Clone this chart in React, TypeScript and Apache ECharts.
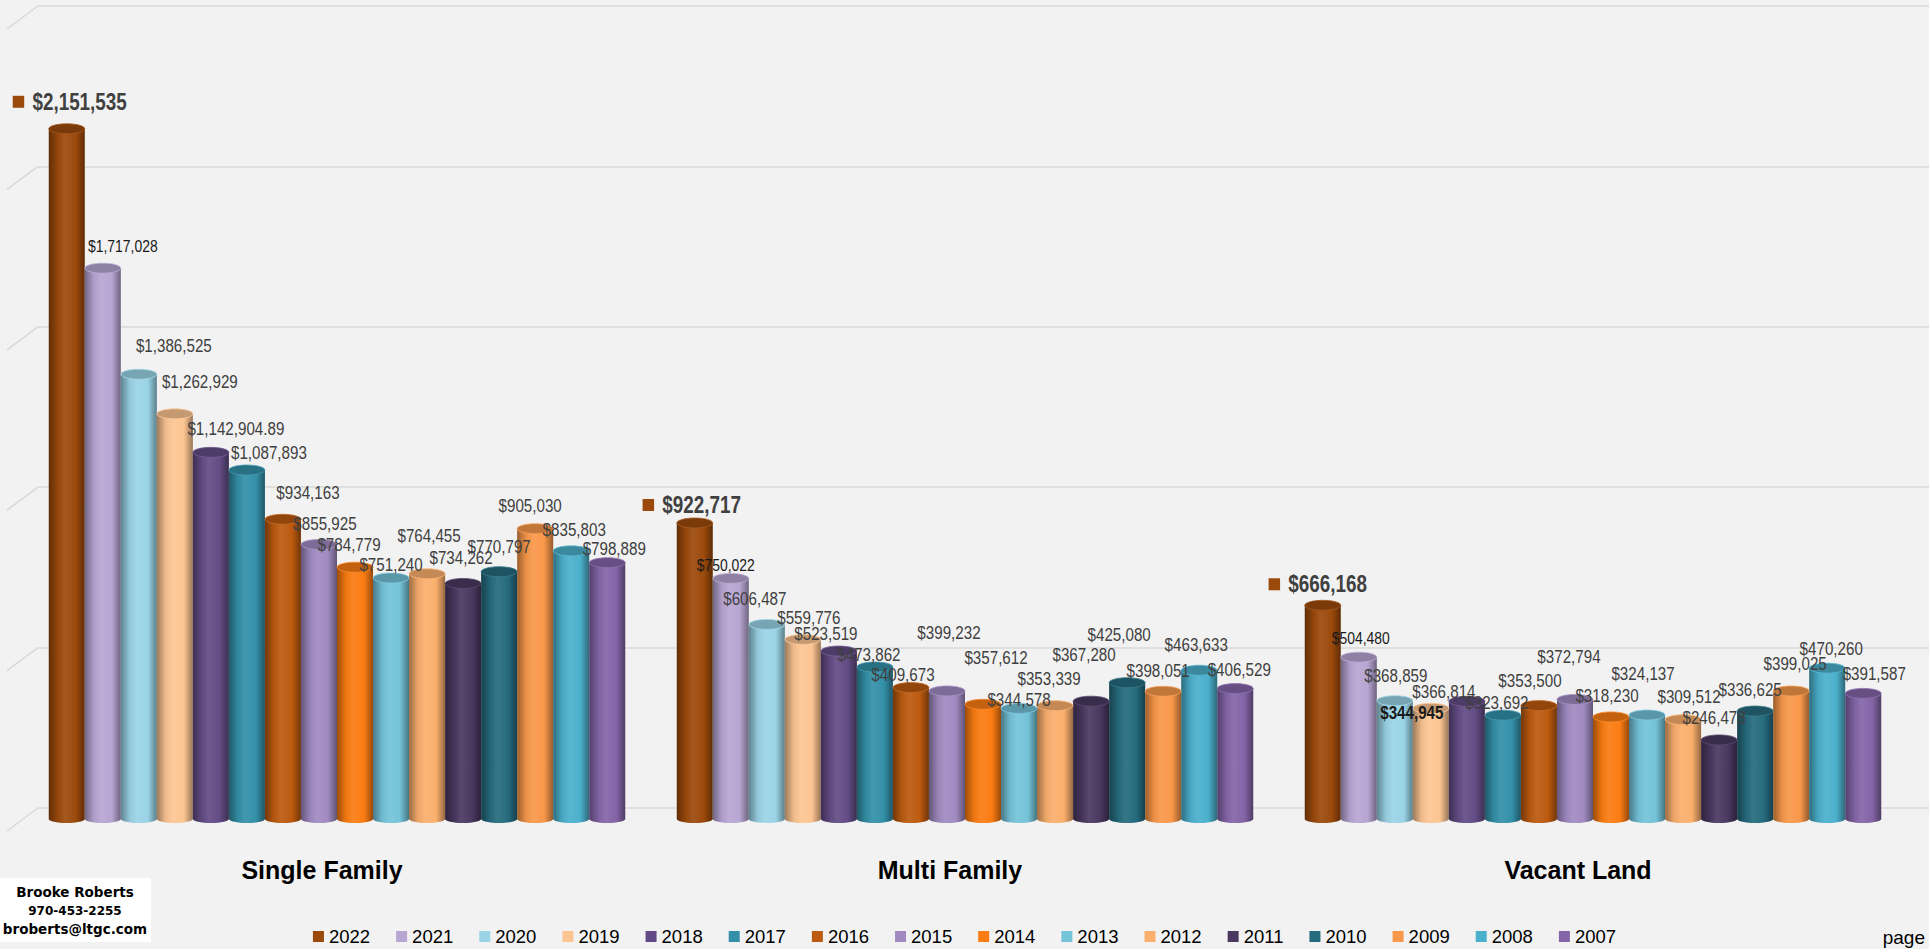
import React, { useEffect, useRef } from "react";
import * as echarts from "echarts";

const categories = ["Single Family", "Multi Family", "Vacant Land"];
const years = ["2022", "2021", "2020", "2019", "2018", "2017", "2016", "2015", "2014", "2013", "2012", "2011", "2010", "2009", "2008", "2007"];
const singleFamily = [2151535, 1717028, 1386525, 1262929, 1142904.89, 1087893, 934163, 855925, 784779, 751240, 764455, 734262, 770797, 905030, 835803, 798889];
const multiFamily = [922717, 750022, 606487, 559776, 523519, 473862, 409673, 399232, 357612, 344578, 353339, 367280, 425080, 398051, 463633, 406529];
const vacantLand = [666168, 504480, 368859, 344945, 366814, 323692, 353500, 372794, 318230, 324137, 309512, 246478, 336625, 399025, 470260, 391587];
const wallTicks = [0, 500000, 1000000, 1500000, 2000000, 2500000];

// data-label nudges (layout only), [dx, dy] px from bar top centre, per year
const labelNudgeSF = [[3, -27], [20, -22], [35, -28], [25, -32], [25, -23], [22, -17], [25, -26], [6, -20], [-6, -22], [0, -13], [2, -38], [-2, -25], [0, -25], [-5, -23], [3, -21], [7, -14]];
const labelNudgeMF = [[-3, -18], [-5, -13], [-12, -25], [6, -21], [-13, -17], [-6, -12], [-8, -13], [2, -58], [13, -46], [0, -8], [-6, -27], [-7, -46], [-8, -48], [-5, -20], [-3, -25], [4, -19]];
const labelNudgeVL = [[-5, -21], [2, -19], [1, -25], [-19, 5], [-23, -9], [-6, -12], [-9, -25], [-6, -42], [-4, -21], [-4, -41], [6, -23], [-5, -22], [-5, -21], [4, -27], [4, -19], [11, -19]];

const seriesColors = ["#9C4A0B", "#B7A5D2", "#9AD4E6", "#FDC592", "#634C85", "#3390A8", "#BC5A0F", "#A08AC1", "#FB7C12", "#74C3D9", "#FBAF6C", "#4A3860", "#256B7D", "#F9984A", "#4BB0CC", "#8465A8"];

const FONT = '"Liberation Sans", Arial, sans-serif';
const NARROW = 0.82;

function shade(hex: string, f: number): string {
  const n = parseInt(hex.slice(1), 16);
  let r = (n >> 16) & 255, g = (n >> 8) & 255, b = n & 255;
  const t = f < 0 ? 0 : 255;
  const p = Math.abs(f);
  r = Math.round((t - r) * p + r);
  g = Math.round((t - g) * p + g);
  b = Math.round((t - b) * p + b);
  return `rgb(${r},${g},${b})`;
}

function money(v: number): string {
  return "$" + v.toLocaleString("en-US", { maximumFractionDigits: 2 });
}

export default function App() {
  const ref = useRef<HTMLDivElement>(null);
  useEffect(() => {
    if (!ref.current) return;
    const chart = echarts.init(ref.current, null, { renderer: "svg" });
    const n = years.length;
    const groupFrac = 0.918;
    const valueSets = [singleFamily, multiFamily, vacantLand];
    const nudges = [labelNudgeSF, labelNudgeMF, labelNudgeVL];

    const barSeries = years.map((yr, s) => {
      const c = seriesColors[s];
      const data = categories.map((_, ci) => [ci, valueSets[ci][s]]);
      return {
        type: "custom",
        name: yr,
        xAxisIndex: 1,
        yAxisIndex: 1,
        z: 3,
        clip: false,
        itemStyle: { color: c },
        encode: { x: 0, y: 1 },
        data,
        renderItem: (params: any, api: any) => {
          const ci = api.value(0);
          const val = api.value(1);
          const base = api.coord([ci, 0]);
          const top = api.coord([ci, val]);
          const band = api.size([1, 0])[0];
          const bw = (band * groupFrac) / n;
          const cx = base[0] + (s - (n - 1) / 2) * bw;
          const [dx, dy] = nudges[ci][s];
          const grad = new echarts.graphic.LinearGradient(0, 0, 1, 0, [
            { offset: 0, color: shade(c, -0.38) },
            { offset: 0.25, color: shade(c, -0.05) },
            { offset: 0.45, color: shade(c, 0.08) },
            { offset: 0.75, color: c },
            { offset: 1, color: shade(c, -0.4) },
          ]);
          const children: any[] = [
            { type: "ellipse", z2: 1, shape: { cx, cy: base[1], rx: bw / 2, ry: 4 }, style: { fill: grad } },
            { type: "rect", z2: 2, shape: { x: cx - bw / 2, y: top[1], width: bw, height: base[1] - top[1] }, style: { fill: grad } },
            { type: "ellipse", z2: 3, shape: { cx, cy: top[1], rx: bw / 2, ry: 5 }, style: { fill: shade(c, -0.22), stroke: shade(c, 0.1), lineWidth: 0.8 } },
          ];
          if (s === 0) {
            children.push({
              type: "text",
              z2: 100,
              x: cx + dx,
              y: top[1] + dy,
              scaleX: NARROW,
              style: {
                text: "{k|}{v|" + money(val) + "}",
                align: "center",
                verticalAlign: "middle",
                rich: {
                  k: { width: 14, height: 12, backgroundColor: c },
                  v: { fontFamily: FONT, fontSize: 23, fontWeight: "bold", fill: "#404040", padding: [0, 0, 0, 10] },
                },
              },
            });
          } else {
            const special = ci === 2 && s === 3;
            children.push({
              type: "text",
              z2: 100,
              x: cx + dx,
              y: top[1] + dy,
              scaleX: NARROW,
              style: {
                text: money(val),
                align: "center",
                verticalAlign: "middle",
                fontFamily: FONT,
                fontSize: s === 1 ? 17 : 18.5,
                fontWeight: special ? "bold" : "normal",
                fill: s === 1 || special ? "#1A1A1A" : "#404040",
              },
            });
          }
          return { type: "group", children };
        },
      };
    });

    const wallSeries = {
      type: "custom",
      name: "wall",
      xAxisIndex: 0,
      yAxisIndex: 0,
      z: 1,
      clip: false,
      silent: true,
      data: wallTicks.map((t) => [0, t]),
      encode: { x: 0, y: 1 },
      renderItem: (params: any, api: any) => {
        const p = api.coord([0, api.value(1)]);
        return {
          type: "line",
          shape: { x1: p[0] - 31, y1: p[1] + 23, x2: p[0], y2: p[1] },
          style: { stroke: "#D9D9D9", lineWidth: 1.5 },
        };
      },
    };

    chart.setOption({
      animation: false,
      backgroundColor: "#F2F2F2",
      grid: [
        { left: 38, right: 0, top: 6, bottom: 141 },
        { left: 23, right: 22, top: 17, bottom: 130 },
      ],
      xAxis: [
        { type: "value", gridIndex: 0, min: 0, max: 1, show: false },
        {
          type: "category",
          gridIndex: 1,
          data: categories,
          axisLine: { show: false },
          axisTick: { show: false },
          axisLabel: {
            margin: 38,
            padding: [0, 30, 0, 0],
            fontFamily: FONT,
            fontSize: 25,
            fontWeight: "bold",
            color: "#000000",
          },
        },
      ],
      yAxis: [
        {
          type: "value",
          gridIndex: 0,
          min: 0,
          max: 2500000,
          interval: 500000,
          axisLabel: { show: false },
          axisLine: { show: false },
          axisTick: { show: false },
          splitLine: { show: true, lineStyle: { color: "#D9D9D9", width: 1.5 } },
        },
        {
          type: "value",
          gridIndex: 1,
          min: 0,
          max: 2500000,
          interval: 500000,
          show: false,
          splitLine: { show: false },
        },
      ],
      legend: {
        data: years.map((y, i) => ({ name: y, icon: "rect", itemStyle: { color: seriesColors[i] } })),
        left: "center",
        top: 922,
        itemWidth: 11,
        itemHeight: 11,
        itemGap: 26,
        selectedMode: false,
        textStyle: { fontFamily: FONT, fontSize: 18.5, color: "#000000" },
      },
      graphic: [
        {
          type: "group",
          left: 0,
          top: 878,
          children: [
            { type: "rect", shape: { x: 0, y: 0, width: 151, height: 64 }, style: { fill: "#FFFFFF" } },
            { type: "text", x: 75, y: 14, style: { text: "Brooke Roberts", align: "center", verticalAlign: "middle", fontFamily: '"DejaVu Sans", sans-serif', fontWeight: "bold", fontSize: 13.5, fill: "#000" } },
            { type: "text", x: 75, y: 33, style: { text: "970-453-2255", align: "center", verticalAlign: "middle", fontFamily: '"DejaVu Sans", sans-serif', fontWeight: "bold", fontSize: 12, fill: "#000" } },
            { type: "text", x: 75, y: 51, style: { text: "broberts@ltgc.com", align: "center", verticalAlign: "middle", fontFamily: '"DejaVu Sans", sans-serif', fontWeight: "bold", fontSize: 13.5, fill: "#000" } },
          ],
        },
        {
          type: "text",
          right: 4,
          top: 928,
          style: { text: "page", fontFamily: FONT, fontSize: 19, fill: "#000" },
        },
      ],
      series: [wallSeries, ...barSeries],
    });
    return () => chart.dispose();
  }, []);
  return <div ref={ref} style={{ position: "fixed", left: 0, top: 0, width: 1929, height: 949 }} />;
}
